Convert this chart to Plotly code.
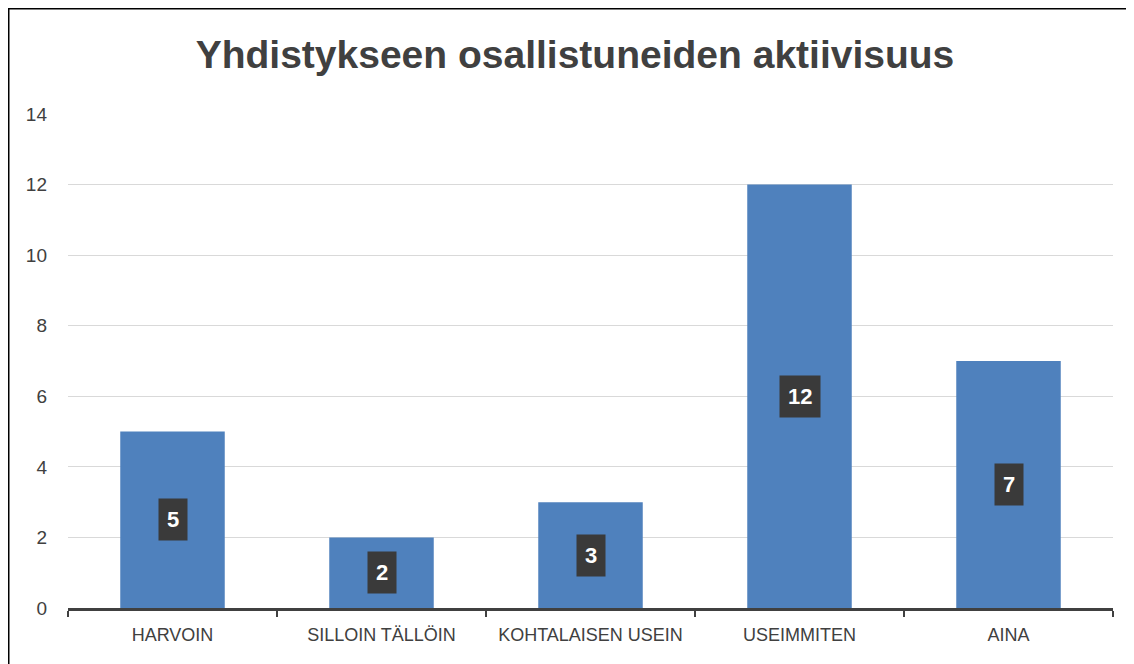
import plotly.graph_objects as go

categories = ["HARVOIN", "SILLOIN TÄLLÖIN", "KOHTALAISEN USEIN", "USEIMMITEN", "AINA"]
values = [5, 2, 3, 12, 7]
y_ticks = [0, 2, 4, 6, 8, 10, 12, 14]
title_text = "Yhdistykseen osallistuneiden aktiivisuus"

FONT = "Liberation Sans, Arial, sans-serif"
DARK = "#404040"

fig = go.Figure()
fig.add_trace(go.Bar(
    x=categories, y=values,
    marker=dict(color="#4f81bd", line=dict(width=0)),
    width=0.5, hoverinfo="x+y",
))

for c, v in zip(categories, values):
    fig.add_annotation(
        x=c, y=v / 2, xref="x", yref="y",
        text="<b>%d</b>" % v, showarrow=False,
        font=dict(family=FONT, size=22, color="white"),
        bgcolor="#3a3a3a", borderpad=8,
    )

# figure is placed at (8, 8) in the page
L, R, T, B = 60, 29, 106, 64
W, H = 1134, 664
pw, ph = W - L - R, H - T - B

fig.add_shape(type="rect", xref="paper", yref="paper",
              x0=-L / pw + 0.5 / pw, x1=1 + 60 / pw,
              y0=-(B + 40) / ph, y1=1 + (T - 0.5) / ph,
              line=dict(color="black", width=2), fillcolor="rgba(0,0,0,0)", layer="above")

fig.update_layout(
    width=W, height=H,
    margin=dict(l=L, r=R, t=T, b=B),
    paper_bgcolor="white", plot_bgcolor="white",
    showlegend=False, bargap=0.5,
    title=dict(text="<b>%s</b>" % title_text, x=(575 - 8 - L) / pw, xref="paper", xanchor="center",
               y=1 - 46 / H, yanchor="middle", yref="container",
               font=dict(family=FONT, size=39, color=DARK)),
    font=dict(family=FONT, color=DARK, size=18),
    xaxis=dict(showline=True, linecolor=DARK, linewidth=3, ticks="outside",
               tickson="boundaries", ticklen=6, tickwidth=2, tickcolor=DARK,
               ticklabelstandoff=8,
               tickfont=dict(size=18, color=DARK), showgrid=False),
    yaxis=dict(range=[0, 14], tickvals=y_ticks, showgrid=True, gridcolor="#d9d9d9",
               gridwidth=1, zeroline=False, showline=False, ticks="",
               ticklabelstandoff=20, tickfont=dict(size=19, color=DARK)),
)

fig.write_html("out.html")
